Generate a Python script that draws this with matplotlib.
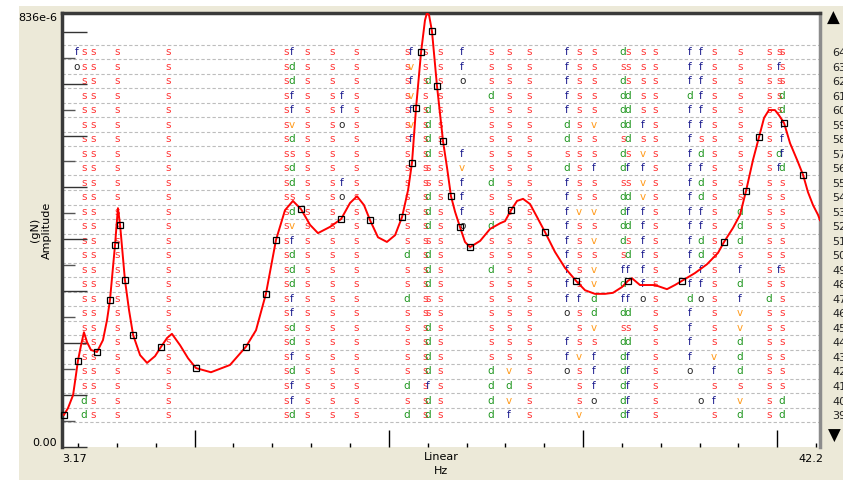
import numpy as np
import matplotlib
matplotlib.use("Agg")
import matplotlib.pyplot as plt
from matplotlib.patches import Rectangle

# frequency response (Hz, amplitude in 1e-6 g/N)
freq_hz = [3.27, 3.48, 3.74, 3.89, 3.99, 4.15, 4.30, 4.46, 4.66, 4.97,
           5.28, 5.49, 5.64, 5.90, 6.05, 6.16, 6.41, 6.62, 6.83, 7.19,
           7.55, 7.96, 8.27, 8.58, 8.83, 9.25, 9.66, 10.07, 10.84, 11.82,
           12.64, 13.16, 13.67, 14.19, 14.65, 15.06, 15.48, 15.94, 16.35, 16.97,
           17.54, 18.00, 18.36, 18.72, 19.03, 19.44, 19.90, 20.32, 20.68, 20.99,
           21.19, 21.40, 21.66, 21.86, 21.96, 22.07, 22.22, 22.48, 22.79, 23.00,
           23.20, 23.41, 23.66, 23.92, 24.18, 24.70, 25.21, 25.73, 25.98, 26.29,
           26.60, 26.91, 27.27, 27.63, 28.04, 28.55, 29.07, 29.64, 30.10, 30.61,
           31.13, 31.54, 32.00, 32.31, 32.52, 32.93, 33.34, 33.70, 34.01, 34.32,
           34.73, 35.09, 35.76, 36.38, 36.95, 37.26, 37.72, 38.08, 38.39, 38.75,
           39.06, 39.32, 39.57, 39.88, 40.09, 40.35, 40.66, 41.02, 41.17, 41.33,
           41.58, 41.84, 42.10, 42.20]
amp_u = [62, 75, 100, 139, 166, 196, 221, 202, 187, 183,
         206, 245, 283, 389, 460, 428, 322, 264, 216, 177,
         162, 175, 193, 210, 218, 196, 171, 152, 144, 158,
         193, 225, 295, 399, 456, 474, 458, 428, 412, 424,
         439, 470, 483, 466, 437, 404, 395, 408, 443, 495,
         547, 653, 761, 822, 836, 832, 801, 695, 589, 537,
         483, 453, 424, 395, 385, 397, 420, 431, 435, 456,
         474, 478, 468, 443, 414, 376, 345, 320, 302, 295,
         295, 297, 308, 320, 325, 312, 312, 312, 308, 304,
         312, 320, 335, 352, 374, 395, 422, 447, 493, 553,
         597, 634, 649, 649, 639, 624, 585, 553, 539, 524,
         491, 466, 447, 437]

# measured spectral lines
marker_hz = [3.27, 3.99, 4.97, 5.64, 5.90, 6.16, 6.41, 6.83, 8.27, 10.07,
             12.64, 13.67, 14.19, 15.48, 17.54, 19.03, 20.68, 21.19, 21.40, 21.66,
             22.22, 22.48, 22.79, 23.20, 23.66, 24.18, 26.29, 28.04, 29.64, 32.31,
             35.09, 37.26, 38.39, 39.06, 40.35, 41.33]
marker_u = [62, 166, 183, 283, 389, 428, 322, 216, 193, 152,
            193, 295, 399, 458, 439, 437, 443, 547, 653, 761,
            801, 695, 589, 483, 424, 385, 456, 414, 320, 320,
            320, 395, 493, 597, 624, 524]

# stabilisation chart: one string per pole frequency, model order 64 down to 39
model_orders = list(range(64, 38, -1))
pole_hz = [3.94, 4.30, 4.76, 6.00, 8.63, 14.70, 15.01, 15.78, 17.07, 17.59,
           18.31, 20.93, 21.14, 21.86, 22.01, 22.63, 23.77, 25.26, 26.19, 27.22,
           29.17, 29.79, 30.56, 32.06, 32.31, 33.08, 33.70, 35.50, 36.07, 36.74,
           38.08, 39.57, 40.09, 40.24]
pole_marks = [
    "fo",
    "ssssssssssssssssssssssssdd",
    "ssssssssssssssssssssssssss",
    "ssssssssssssssssssssssssss",
    "ssssssssssssssssssssssssss",
    "ssssssssssssssssssssssssss",
    "fddffvdsddsdvfdddffddfdffd",
    "ssssssssssssssssssssssssss",
    "ssssssssssssssssssssssssss",
    "   ffo   fo",
    "ssssssssssssssssssssssssss",
    "ssssssssssssssdssdsssssdsd",
    "fvfvfvf",
    "ssssssssssssssssssssssssss",
    "  d ddddssdddsdddssddddfdd",
    "ssssssssssssssssssssssssss",
    "ffo    fvfffo",
    "sssdsssssdssdssdssssssdddd",
    "ssssssssssssssssssssssvdvf",
    "ssssssssssssssssssssssssss",
    "fffffddsdfffffffffo ffo",
    "sssssssssssvsssssfsssvsssv",
    "sssssvssfssvsvsvvddvsfffo",
    "dsddddsddsddddsfdfdsdddddd",
    "sssddddsfsdfdsdf fdsdfffff",
    "sssssfsvfvvffffffo",
    "ssssssssssssssssssssssssss",
    "fffdfffffffffffffdffffo",
    "ffffffsdfddffddffo      o",
    "sssssssssssssssssssssvfsfs",
    "sssssssssssdddsfdfvvdddsvd",
    "sssssssssssssssssdssssssss",
    "sfsss  df      f",
    "sssddfffdsssssssssssssssdd",
]
mark_colors = {"s": "#ff3535", "f": "#1c1c8e", "d": "#1f961f",
               "v": "#ff9a1a", "o": "#222222"}

W, H = 843, 480
fig = plt.figure(figsize=(W / 100, H / 100), dpi=100, facecolor="white")
fig.patches.append(Rectangle((19 / W, 0), 1, 1 - 6 / H, transform=fig.transFigure,
                             facecolor="#ece9d8", edgecolor="none", zorder=-10))

ax = fig.add_axes([62 / W, 33 / H, 758 / W, 434 / H])
axr = ax.twinx()
ax.set_zorder(2)
axr.set_zorder(1)
ax.patch.set_visible(False)
axr.patch.set_visible(True)
axr.patch.set_facecolor("white")

ax.set_xlim(3.17, 42.2)
ax.set_ylim(0, 836e-6)
axr.set_ylim(36.8, 66.69)

# dashed row separators and pole letters
axr.hlines(np.arange(38.5, 65, 1), 3.17, 42.2, colors="#bdbdbd",
           linestyles=(0, (3, 2)), lw=0.8, zorder=1)
for hz, marks in zip(pole_hz, pole_marks):
    for order, ch in zip(model_orders, marks.ljust(26)):
        if ch == " ":
            continue
        axr.text(hz, order, ch, color=mark_colors[ch], fontsize=7.5,
                 ha="center", va="center", zorder=2)

# amplitude curve
amp = np.array(amp_u) * 1e-6
ax.plot(freq_hz, amp, color="red", lw=1.4, zorder=3)
ax.plot(marker_hz, np.array(marker_u) * 1e-6, "s", ms=4, mfc="none",
        mec="black", mew=0.9, zorder=4, clip_on=False)

# axis styling
for side in ("left", "top"):
    ax.spines[side].set_color("#3a3a3a")
    ax.spines[side].set_linewidth(2.5)
ax.spines["right"].set_color("#8c8c8c")
ax.spines["right"].set_linewidth(2.5)
ax.spines["bottom"].set_visible(False)
for s in axr.spines.values():
    s.set_visible(False)

ax.set_xticks([10, 20, 30, 40])
ax.set_xticks([x for x in range(4, 43, 2) if x % 10], minor=True)
ax.set_yticks(np.arange(0, 850e-6, 100e-6))
ax.set_yticks(np.arange(50e-6, 850e-6, 100e-6), minor=True)
ax.tick_params(axis="x", which="major", direction="in", length=12, width=1,
               color="black", labelbottom=False)
ax.tick_params(axis="x", which="minor", direction="in", length=3, width=1,
               color="black")
ax.tick_params(axis="y", which="major", direction="in", length=18, width=1,
               color="#333333", labelleft=False)
ax.tick_params(axis="y", which="minor", direction="in", length=9, width=1,
               color="#555555")

axr.set_yticks(model_orders)
axr.set_yticklabels([str(o) for o in model_orders])
axr.tick_params(axis="y", length=0, pad=9, labelsize=8, labelcolor="#202020")

ax.set_ylabel("(gN)\nAmplitude", fontsize=8, va="center", linespacing=1.25)
ax.yaxis.set_label_coords(-0.028, 0.5)
ax.set_xlabel("Linear\nHz", fontsize=8, va="top", linespacing=1.5)
ax.xaxis.set_label_coords(0.5, -0.012)

fig.text(57 / W, 1 - 18 / H, "836e-6", ha="right", va="center", fontsize=8)
fig.text(57 / W, 1 - 443 / H, "0.00", ha="right", va="center", fontsize=8)
fig.text(62 / W, 1 - 459 / H, "3.17", ha="left", va="center", fontsize=8)
fig.text(823 / W, 1 - 459 / H, "42.2", ha="right", va="center", fontsize=8)
fig.text(833 / W, 1 - 18 / H, "\u25b2", ha="center", va="center", fontsize=12)
fig.text(834 / W, 1 - 436 / H, "\u25bc", ha="center", va="center", fontsize=12)

fig.savefig("out.png", dpi=100, facecolor=fig.get_facecolor())
